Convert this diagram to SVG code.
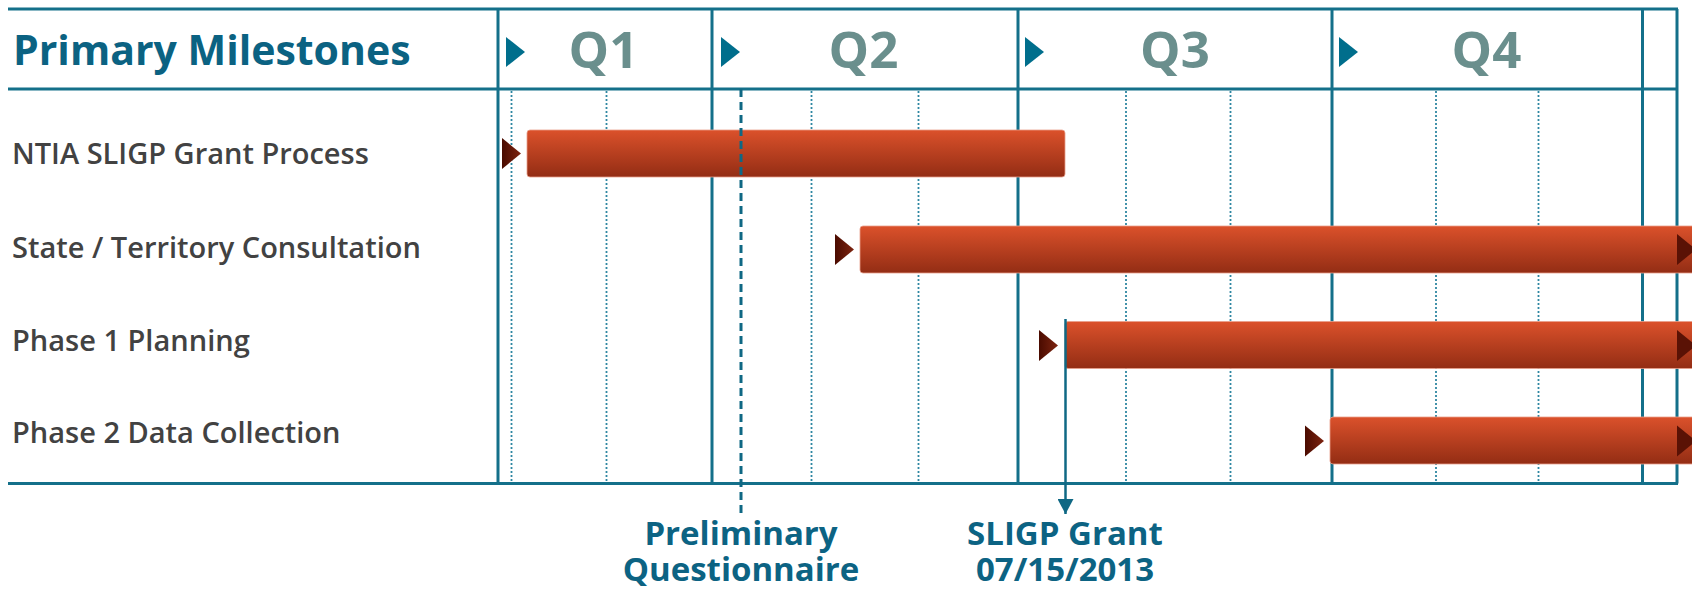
<svg xmlns="http://www.w3.org/2000/svg" width="1692" height="590" viewBox="0 0 1692 590">
  <defs>
    <linearGradient id="barGrad" x1="0" y1="0" x2="0" y2="1">
      <stop offset="0" stop-color="#db512b"/>
      <stop offset="1" stop-color="#932d14"/>
    </linearGradient>
    <linearGradient id="triGrad" x1="0" y1="0" x2="1" y2="0">
      <stop offset="0" stop-color="#4a0b00"/>
      <stop offset="1" stop-color="#7e2410"/>
    </linearGradient>
    <marker id="arrowHead" viewBox="0 0 15 16" refX="15" refY="8" markerWidth="15" markerHeight="16" markerUnits="userSpaceOnUse" orient="auto">
      <path d="M0,0 L15,8 L0,16 Z" fill="#0f6884"/>
    </marker>
  </defs>
  <style>
    .grid { stroke: #14708a; stroke-width: 3; fill: none; }
    .dot { stroke: #2f87a2; stroke-width: 1.8; stroke-dasharray: 2 2; fill: none; }
    .dash { stroke: #0f6884; stroke-width: 3; stroke-dasharray: 8 5; fill: none; }
    .title { font-family: "Open Sans", "Noto Sans", sans-serif; font-weight: 700; font-size: 41px; fill: #0b6282; }
    .q { font-family: "Open Sans", "Noto Sans", sans-serif; font-weight: 700; font-size: 51px; fill: #6a8f8d; text-anchor: middle; }
    .row { font-family: "Open Sans", "Noto Sans", sans-serif; font-weight: 600; font-size: 29px; fill: #424242; }
    .ms { font-family: "Open Sans", "Noto Sans", sans-serif; font-weight: 700; font-size: 33px; fill: #0c6383; text-anchor: middle; }
    .htri { fill: #006e8c; }
    .bar { fill: url(#barGrad); stroke: #e8a08c; stroke-width: 0.8; }
    .btri { fill: url(#triGrad); }
    .etri { fill: #5a1205; }
    .conn { stroke: #0f6884; stroke-width: 2.5; fill: none; }
  </style>

  <g id="grid">
    <line class="grid" x1="8" y1="9" x2="1678" y2="9"/>
    <line class="grid" x1="8" y1="89" x2="1678" y2="89"/>
    <line class="grid" x1="8" y1="483.5" x2="1678" y2="483.5"/>
    <line class="grid" x1="498" y1="9" x2="498" y2="483.5"/>
    <line class="grid" x1="712" y1="9" x2="712" y2="483.5"/>
    <line class="grid" x1="1018" y1="9" x2="1018" y2="483.5"/>
    <line class="grid" x1="1332" y1="9" x2="1332" y2="483.5"/>
    <line class="grid" x1="1642.5" y1="9" x2="1642.5" y2="483.5"/>
    <line class="grid" x1="1677" y1="9" x2="1677" y2="483.5"/>
    <line class="dot" x1="511.5" y1="91" x2="511.5" y2="482"/>
    <line class="dot" x1="606.5" y1="91" x2="606.5" y2="482"/>
    <line class="dot" x1="811.5" y1="91" x2="811.5" y2="482"/>
    <line class="dot" x1="918.5" y1="91" x2="918.5" y2="482"/>
    <line class="dot" x1="1126" y1="91" x2="1126" y2="482"/>
    <line class="dot" x1="1230.5" y1="91" x2="1230.5" y2="482"/>
    <line class="dot" x1="1436" y1="91" x2="1436" y2="482"/>
    <line class="dot" x1="1538.5" y1="91" x2="1538.5" y2="482"/>
  </g>

  <g id="header">
    <text class="title" x="13" y="65">Primary Milestones</text>
    <polygon class="htri" points="506,37 525,52 506,67"/>
    <text class="q" x="603.5" y="68">Q1</text>
    <polygon class="htri" points="721,37 740,52 721,67"/>
    <text class="q" x="863.5" y="68">Q2</text>
    <polygon class="htri" points="1025,37 1044,52 1025,67"/>
    <text class="q" x="1175" y="68">Q3</text>
    <polygon class="htri" points="1339,37 1358,52 1339,67"/>
    <text class="q" x="1486.5" y="68">Q4</text>
  </g>

  <g id="row-ntia">
    <text class="row" x="12" y="164">NTIA SLIGP Grant Process</text>
    <polygon class="btri" points="502,138 521,153.5 502,169"/>
    <rect class="bar" x="527" y="130" width="538" height="47" rx="3"/>
  </g>

  <g id="row-consultation">
    <text class="row" x="12" y="258">State / Territory Consultation</text>
    <polygon class="btri" points="835,234 854,249.5 835,265"/>
    <rect class="bar" x="860" y="226" width="840" height="47" rx="3"/>
    <polygon class="etri" points="1677,234 1696,249.5 1677,265"/>
  </g>

  <g id="row-phase1">
    <text class="row" x="12" y="351">Phase 1 Planning</text>
    <polygon class="btri" points="1039,330 1058,345.5 1039,361"/>
    <rect class="bar" x="1065" y="321.5" width="640" height="47" rx="3"/>
    <polygon class="etri" points="1677,330 1696,345.5 1677,361"/>
  </g>

  <g id="row-phase2">
    <text class="row" x="12" y="442.5">Phase 2 Data Collection</text>
    <polygon class="btri" points="1305,425.5 1324,441 1305,456.5"/>
    <rect class="bar" x="1330" y="417" width="380" height="47" rx="3"/>
    <polygon class="etri" points="1677,425.5 1696,441 1677,456.5"/>
  </g>

  <g id="connectors">
    <line class="dash" x1="741" y1="89" x2="741" y2="516"/>
    <line class="conn" x1="1065.5" y1="319" x2="1065.5" y2="514" marker-end="url(#arrowHead)"/>
  </g>

  <g id="milestone-questionnaire">
    <text class="ms" x="741" y="545"><tspan x="741" y="545">Preliminary</tspan><tspan x="741" y="581">Questionnaire</tspan></text>
  </g>

  <g id="milestone-grant">
    <text class="ms" x="1065" y="545"><tspan x="1065" y="545">SLIGP Grant</tspan><tspan x="1065" y="581">07/15/2013</tspan></text>
  </g>
</svg>
